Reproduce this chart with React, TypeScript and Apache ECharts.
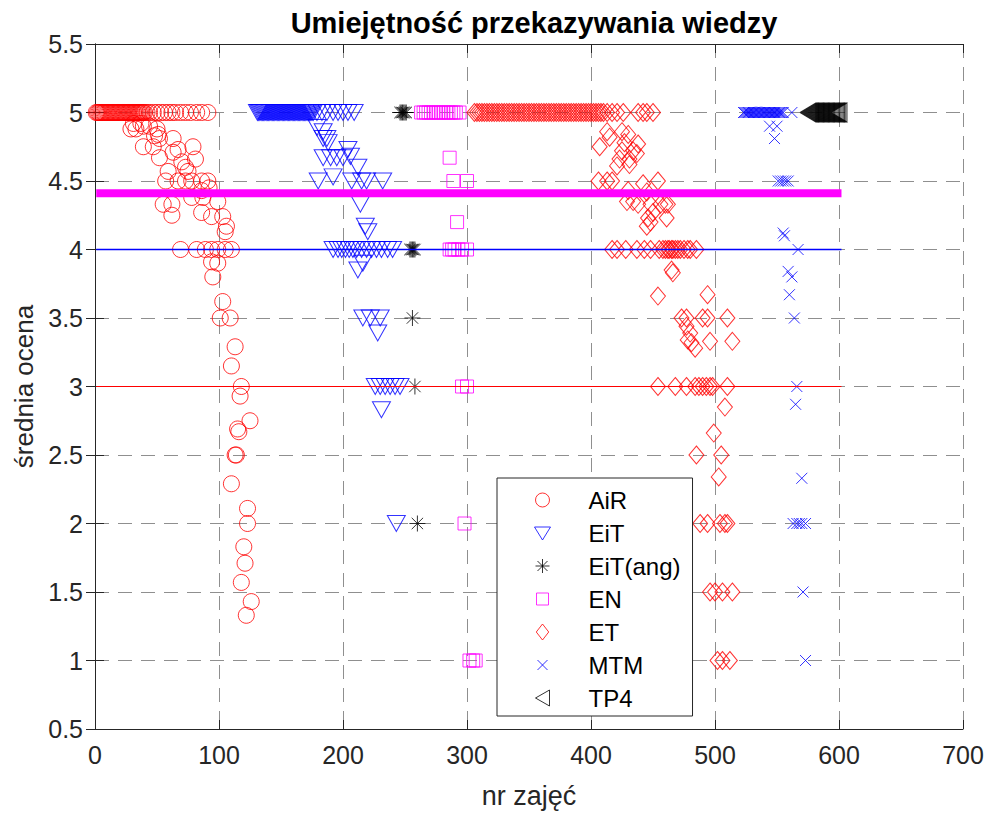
import React, { useEffect, useRef } from "react";
import * as echarts from "echarts";

const TITLE = "Umiejętność przekazywania wiedzy";
const X_NAME = "nr zajęć";
const Y_NAME = "średnia ocena";
const LEGEND_NAMES = ["AiR", "EiT", "EiT(ang)", "EN", "ET", "MTM", "TP4"];

// x positions of points sitting at y = 5
const AIR_X5 = [1,2,3,4,5,6,7,8,9,10,11,12,13,14,15,16,17,18,19,20,21,22,23,24,25,26,27,28,29,30,31,32,33,34,35,36,37,38,39,40,42,44,47,50,53,56,59,62,65,69,73,77,82,86,91];
const AIR_OTHER: [number, number][] = [
  [29,4.88],[31,4.92],[33,4.88],[37,4.92],[39,4.9],[44,4.9],[48,4.83],[50,4.88],[51,4.84],[52,4.81],[63,4.81],
  [39,4.75],[47,4.75],[52,4.67],[63,4.71],[67,4.73],[79,4.75],[81,4.66],[70,4.64],[73,4.6],[59,4.57],[75,4.57],
  [57,4.5],[67,4.5],[73,4.5],[78,4.5],[86,4.5],[91,4.5],[86,4.43],[92,4.45],[99,4.35],
  [55,4.33],[62,4.33],[62,4.25],[78,4.38],[87,4.38],[86,4.27],[94,4.24],[103,4.24],[106,4.17],[105,4.13],
  [69,4],[82,4],[89,4],[94,4],[99,4],[105,4],[110,4],[94,3.91],[99,3.9],[95,3.8],
  [103,3.62],[101,3.5],[109,3.5],[113,3.29],[110,3.15],[118,3],[117,2.93],[125,2.75],[115,2.69],[116,2.67],
  [113,2.5],[114,2.5],[110,2.29],[123,2.11],[123,2],[120,1.83],[121,1.71],[118,1.57],[126,1.43],[122,1.33]
];

const EIT_X5 = [131,132,133,134,135,136,137,138,139,140,141,142,143,144,145,146,147,148,149,150,151,152,153,154,155,156,157,158,159,160,161,162,163,164,165,166,167,168,169,170,171,172,173,174,175,176,179,183,187,192,196,200,204,209];
const EIT_OTHER: [number, number][] = [
  [179,4.89],[184,4.86],[184,4.81],[187,4.81],[188,4.78],[184,4.67],[190,4.67],[195,4.67],[200,4.67],[204,4.73],
  [206,4.68],[212,4.6],[180,4.5],[192,4.53],[207,4.5],[215,4.5],[219,4.5],[232,4.5],[214,4.33],[218,4.17],[220,4.13],
  [192,4],[196,4],[199,4],[202,4],[205,4],[208,4],[211,4],[215,4],[219,4],[223,4],[227,4],[231,4],[236,4],[240,4],
  [212,3.85],[216,3.9],[216,3.5],[222,3.5],[230,3.5],[228,3.39],
  [226,3],[230,3],[234,3],[238,3],[242,3],[246,3],[231,2.83],[243,2]
];

const EITANG_X5 = [246,247,248,249,250,251];
const EITANG_OTHER: [number, number][] = [[254,4],[255,4],[256,4],[257,4],[258,4],[256,3.5],[258,3],[260,2]];

const EN_X5 = [263,265,267,269,271,273,275,277,279,281,283,285,287,289,291,294];
const EN_OTHER: [number, number][] = [
  [286,4.67],[289,4.5],[300,4.5],[292,4.2],[286,4],[288,4],[290,4],[293,4],[296,4],[300,4],
  [296,3],[300,3],[298,2],[302,1],[305,1],[307,1]
];

const ET_X5 = [306,308,310,312,314,316,318,320,322,324,326,328,330,332,334,336,338,340,342,344,346,348,350,352,354,356,358,360,362,364,366,368,370,372,374,376,378,380,382,384,386,388,390,392,394,396,398,400,402,404,406,408,410,413,417,421,426,438,442,445,450];
const ET_OTHER: [number, number][] = [
  [413,4.86],[415,4.82],[407,4.75],[425,4.86],[430,4.84],[427,4.78],[438,4.77],[425,4.72],[434,4.72],[437,4.7],
  [423,4.66],[431,4.66],[421,4.61],[431,4.62],[406,4.5],[413,4.5],[417,4.5],[454,4.5],[442,4.48],
  [430,4.43],[429,4.35],[434,4.35],[438,4.33],[445,4.42],[448,4.33],[456,4.33],[460,4.33],[462,4.33],[450,4.27],
  [446,4.23],[448,4.2],[445,4.17],[461,4.23],
  [417,4],[421,4],[428,4],[437,4],[443,4],[448,4],[455,4],[458,4],[460,4],[462,4],[463,4],[465,4],[466,4],[468,4],
  [470,4],[472,4],[475,4],[478,4],[480,4],[485,4],[465,3.85],[466,3.83],
  [454,3.66],[494,3.67],[473,3.5],[477,3.5],[490,3.5],[494,3.5],[510,3.5],[477,3.44],[480,3.39],[478,3.34],[481,3.32],
  [484,3.28],[496,3.33],[514,3.33],
  [454,3],[468,3],[477,3],[484,3],[487,3],[490,3],[493,3],[496,3],[498,3],[510,3],[508,2.85],[499,2.66],[485,2.5],
  [505,2.5],[503,2.34],[488,2],[494,2],[504,2],[508,2],[510,2],[496,1.5],[500,1.5],[506,1.5],[514,1.5],
  [502,1],[506,1],[512,1]
];

const MTM_X5 = [523,524,525,526,527,528,529,530,531,532,533,534,535,536,537,538,539,540,541,542,543,544,545,546,547,548,549,550,551,552,553,554,555,562];
const MTM_OTHER: [number, number][] = [
  [573,1],[544,4.9],[550,4.9],[548,4.81],[551,4.5],[553,4.5],[555,4.5],[557,4.5],[559,4.5],[555,4.12],[556,4.1],[567,4],
  [559,3.84],[562,3.8],[560,3.67],[564,3.5],[566,3],[565,2.87],[570,2.33],[563,2],[566,2],[568,2],[570,2],[573,2],
  [571,1.5]
];

const TP4_X5 = [575,576,577,578,579,580,581,582,583,584,585,586,587,588,589,590,591,592,593,594,595,596,597,598,599,600];

// reference lines
const LINE_X = [1, 602];
const MEAN_ALL = 4.41;
const LEVEL_4 = 4;
const LEVEL_3 = 3;

const FONT = "Liberation Sans, Arial, Helvetica, sans-serif";

const SYM_TRI_DOWN = "path://M0,0L18,0L9,16Z";
const SYM_TRI_LEFT = "path://M0,9.5L16,0L16,19Z";
const SYM_STAR = "path://M8,0L8,16M0,8L16,8M2.3,2.3L13.7,13.7M2.3,13.7L13.7,2.3";
const SYM_DIAMOND = "path://M7.5,0L15,9L7.5,18L0,9Z";
const SYM_X = "path://M0,0L11,11M0,11L11,0";

// legend icons, drawn in a padded 16x16 box
const LEG_ICONS: Record<string, [string, string]> = {
  AiR: ["path://M0,0M16,16M1,8A7,7,0,1,0,15,8A7,7,0,1,0,1,8Z", "#ff0000"],
  EiT: ["path://M0,0M16,16M0,2L16,2L8,15Z", "#0000ff"],
  "EiT(ang)": ["path://M0,0M16,16M8,1L8,15M1,8L15,8M3,3L13,13M3,13L13,3", "#000000"],
  EN: ["path://M0,0M16,16M2,2L14,2L14,14L2,14Z", "#ff00ff"],
  ET: ["path://M0,0M18,18M9,0L16,9L9,18L2,9Z", "#ff0000"],
  MTM: ["path://M0,0M16,16M3,3L13,13M3,13L13,3", "#0000ff"],
  TP4: ["path://M0,0M16,16M1,8L15,0L15,16Z", "#000000"],
};

function withY5(xs: number[], rest: [number, number][]) {
  return xs.map((x) => [x, 5]).concat(rest);
}

export default function App() {
  const ref = useRef<HTMLDivElement>(null);
  useEffect(() => {
    document.body.style.margin = "0";
    const chart = echarts.init(ref.current!, undefined, { renderer: "svg" });
    const mk = (name: string, data: number[][], symbol: string, size: any, color: string) => ({
      name,
      type: "scatter",
      data,
      symbol,
      symbolSize: size,
      itemStyle: { color: "transparent", borderColor: color, borderWidth: 1 },
      emphasis: { disabled: true },
    });
    const hline = (y: number, color: string, width: number) => ({
      type: "line",
      data: LINE_X.map((x) => [x, y]),
      symbol: "none",
      lineStyle: { color, width },
      silent: true,
    });
    const tickStyle = { show: true, inside: true, length: 9, lineStyle: { color: "#262626" } };
    const lineStyle = { show: true, lineStyle: { color: "#262626", width: 1 } };
    const gridLine = { show: true, lineStyle: { color: "#8f8f8f", type: [14, 9], width: 1 } };
    chart.setOption({
      animation: false,
      backgroundColor: "#ffffff",
      title: {
        text: TITLE,
        left: 529,
        textAlign: "center",
        top: 3,
        textStyle: { fontFamily: FONT, fontSize: 29, fontWeight: "bold", color: "#000" },
      },
      grid: { left: 95, right: 24, top: 44, bottom: 85 },
      legend: {
        orient: "vertical",
        left: 497,
        top: 478,
        padding: [10, 12, 6, 37],
        itemWidth: 16,
        itemHeight: 16,
        itemGap: 9,
        backgroundColor: "#ffffff",
        borderColor: "#262626",
        borderWidth: 1,
        textStyle: { fontFamily: FONT, fontSize: 24, color: "#000", lineHeight: 20, padding: [0, 0, 0, 33] },
        data: LEGEND_NAMES.map((n) => ({
          name: n,
          icon: LEG_ICONS[n][0],
          itemStyle: { color: "transparent", borderColor: LEG_ICONS[n][1], borderWidth: 1 },
        })),
      },
      xAxis: [
        {
          type: "value",
          min: 0,
          max: 700,
          interval: 100,
          position: "bottom",
          name: X_NAME,
          nameLocation: "middle",
          nameGap: 53,
          nameTextStyle: { fontFamily: FONT, fontSize: 27, color: "#262626" },
          axisLine: lineStyle,
          axisTick: tickStyle,
          axisLabel: { fontFamily: FONT, fontSize: 25, color: "#262626", margin: 13 },
          splitLine: gridLine,
        },
        {
          type: "value",
          min: 0,
          max: 700,
          interval: 100,
          position: "top",
          axisLine: lineStyle,
          axisTick: tickStyle,
          axisLabel: { show: false },
          splitLine: { show: false },
        },
      ],
      yAxis: [
        {
          type: "value",
          min: 0.5,
          max: 5.5,
          interval: 0.5,
          position: "left",
          name: Y_NAME,
          nameLocation: "middle",
          nameGap: 50,
          nameTextStyle: { fontFamily: FONT, fontSize: 26, color: "#262626" },
          axisLine: lineStyle,
          axisTick: tickStyle,
          axisLabel: { fontFamily: FONT, fontSize: 25, color: "#262626", margin: 12 },
          splitLine: gridLine,
        },
        {
          type: "value",
          min: 0.5,
          max: 5.5,
          interval: 0.5,
          position: "right",
          axisLine: lineStyle,
          axisTick: tickStyle,
          axisLabel: { show: false },
          splitLine: { show: false },
        },
      ],
      series: [
        mk("AiR", withY5(AIR_X5, AIR_OTHER), "circle", 16, "#ff0000"),
        mk("EiT", withY5(EIT_X5, EIT_OTHER), SYM_TRI_DOWN, [18, 16], "#0000ff"),
        mk("EiT(ang)", withY5(EITANG_X5, EITANG_OTHER), SYM_STAR, 16, "#000000"),
        mk("EN", withY5(EN_X5, EN_OTHER), "rect", 13, "#ff00ff"),
        mk("ET", withY5(ET_X5, ET_OTHER), SYM_DIAMOND, [15, 18], "#ff0000"),
        mk("MTM", withY5(MTM_X5, MTM_OTHER), SYM_X, 11, "#0000ff"),
        mk("TP4", withY5(TP4_X5, []), SYM_TRI_LEFT, [16, 19], "#000000"),
        hline(MEAN_ALL, "#ff00ff", 8),
        hline(LEVEL_4, "#0000ff", 1.5),
        hline(LEVEL_3, "#ff0000", 1),
      ],
    });
    return () => chart.dispose();
  }, []);
  return <div ref={ref} style={{ width: 987, height: 814 }} />;
}
